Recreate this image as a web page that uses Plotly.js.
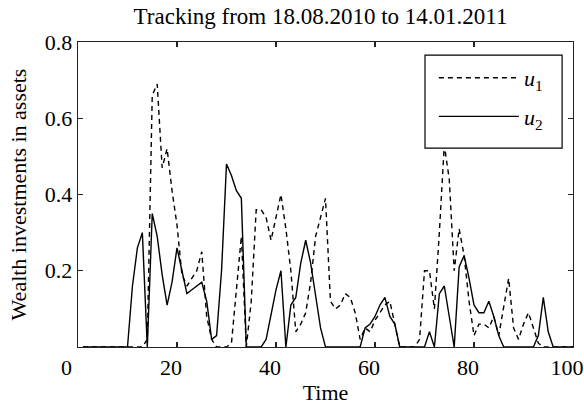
<!DOCTYPE html>
<html>
<head>
<meta charset="utf-8">
<script src="https://cdn.plot.ly/plotly-3.0.1.min.js"></script>
<style>html,body{margin:0;padding:0;background:#fff;}#chart{width:584px;height:409px;}</style>
</head>
<body>
<div id="chart"></div>
<script>
// Time axis (days 1..100)
const time = Array.from({length: 100}, (_, i) => i + 1);

// u1 (dashed) values, t = 1..100
const u1 = [
  0, 0, 0, 0, 0, 0, 0, 0, 0, 0,
  0, 0, 0, 0.02, 0.66, 0.69, 0.47, 0.52, 0.41, 0.32,
  0.19, 0.16, 0.18, 0.20, 0.25, 0.08, 0.02, 0, 0, 0,
  0.01, 0.15, 0.29, 0, 0.12, 0.36, 0.36, 0.34, 0.28, 0.34,
  0.40, 0.31, 0.20, 0.04, 0.06, 0.09, 0.17, 0.29, 0.34, 0.39,
  0.12, 0.10, 0.11, 0.14, 0.13, 0.09, 0.02, 0.05, 0.04, 0.07,
  0.09, 0.11, 0.12, 0.06, 0, 0, 0, 0, 0.02, 0.20,
  0.20, 0.10, 0.30, 0.53, 0.44, 0.20, 0.31, 0.24, 0.12, 0.03,
  0.06, 0.06, 0.05, 0.08, 0.03, 0.10, 0.18, 0.05, 0.02, 0.06,
  0.09, 0.05, 0.01, 0, 0, 0, 0, 0, 0, 0
];

// u2 (solid) values, t = 1..100
const u2 = [
  0, 0, 0, 0, 0, 0, 0, 0, 0, 0,
  0.16, 0.26, 0.30, 0, 0.35, 0.29, 0.19, 0.11, 0.17, 0.26,
  0.20, 0.14, 0.15, 0.16, 0.17, 0.12, 0.02, 0.03, 0.20, 0.48,
  0.45, 0.41, 0.39, 0, 0, 0, 0, 0.02, 0.09, 0.15,
  0.20, 0, 0.11, 0.13, 0.22, 0.28, 0.22, 0.14, 0.05, 0,
  0, 0, 0, 0, 0, 0, 0, 0.05, 0.06, 0.08,
  0.11, 0.13, 0.08, 0.06, 0, 0, 0, 0, 0, 0,
  0.04, 0, 0.14, 0.16, 0.08, 0, 0.21, 0.24, 0.18, 0.11,
  0.09, 0.09, 0.12, 0.08, 0.03, 0, 0, 0, 0, 0,
  0, 0, 0.03, 0.13, 0.04, 0, 0, 0, 0, 0
];

const seriesNames = ['<i>u</i><sub>1</sub>', '<i>u</i><sub>2</sub>'];
const xTicks = [0, 20, 40, 60, 80, 100];
const xTickText = ['0&nbsp;&nbsp;', '20', '40', '60', '80', '100'];
const yTicks = [0.2, 0.4, 0.6, 0.8];

const FONT = 'Liberation Serif, Times New Roman, serif';

const traces = [
  {x: time, y: u1, type: 'scatter', mode: 'lines', name: seriesNames[0], legendgroup: 'g1',
   line: {color: '#000', width: 1.4, dash: '5px,4px'}},
  {x: time, y: u2, type: 'scatter', mode: 'lines', name: seriesNames[1], legendgroup: 'g2',
   line: {color: '#000', width: 1.4}}
];

const axisCommon = {
  showline: true, linecolor: '#222', linewidth: 1.3, mirror: 'ticks',
  ticks: 'inside', ticklen: 5, tickcolor: '#222', tickwidth: 1.2,
  showgrid: false, zeroline: false,
  tickfont: {family: FONT, size: 22, color: '#000'}
};

const layout = {
  width: 584, height: 409,
  margin: {l: 78, r: 11, t: 42, b: 62},
  paper_bgcolor: '#fff', plot_bgcolor: '#fff',
  font: {family: FONT, color: '#000'},
  title: {text: 'Tracking from 18.08.2010 to 14.01.2011',
          font: {family: FONT, size: 23, color: '#000'},
          xref: 'paper', x: 0.49, yref: 'container', y: 0.962, yanchor: 'middle'},
  xaxis: Object.assign({}, axisCommon, {
    range: [0, 100], tickvals: xTicks, ticktext: xTickText, ticklabelshift: -6,
    title: {text: 'Time', font: {family: FONT, size: 22, color: '#000'}, standoff: 6}
  }),
  yaxis: Object.assign({}, axisCommon, {
    range: [0, 0.8], tickvals: yTicks, ticktext: yTicks.map(v => v.toFixed(1)),
    title: {text: 'Wealth investments in assets', font: {family: FONT, size: 22, color: '#000'}, standoff: 12}
  }),
  shapes: [
    {type: 'rect', xref: 'paper', yref: 'paper', x0: 0.701, x1: 0.978, y0: 0.652, y1: 0.957,
     line: {color: '#000', width: 1.2}, fillcolor: '#fff', layer: 'above'}
  ],
  showlegend: true,
  legend: {
    x: 0.719, y: 0.951, xanchor: 'left', yanchor: 'top',
    bgcolor: 'rgba(0,0,0,0)', borderwidth: 0,
    traceorder: 'grouped', tracegroupgap: 7,
    font: {family: FONT, size: 22, color: '#000'},
    itemwidth: 80
  }
};

Plotly.newPlot('chart', traces, layout, {staticPlot: true, displayModeBar: false});
</script>
</body>
</html>
